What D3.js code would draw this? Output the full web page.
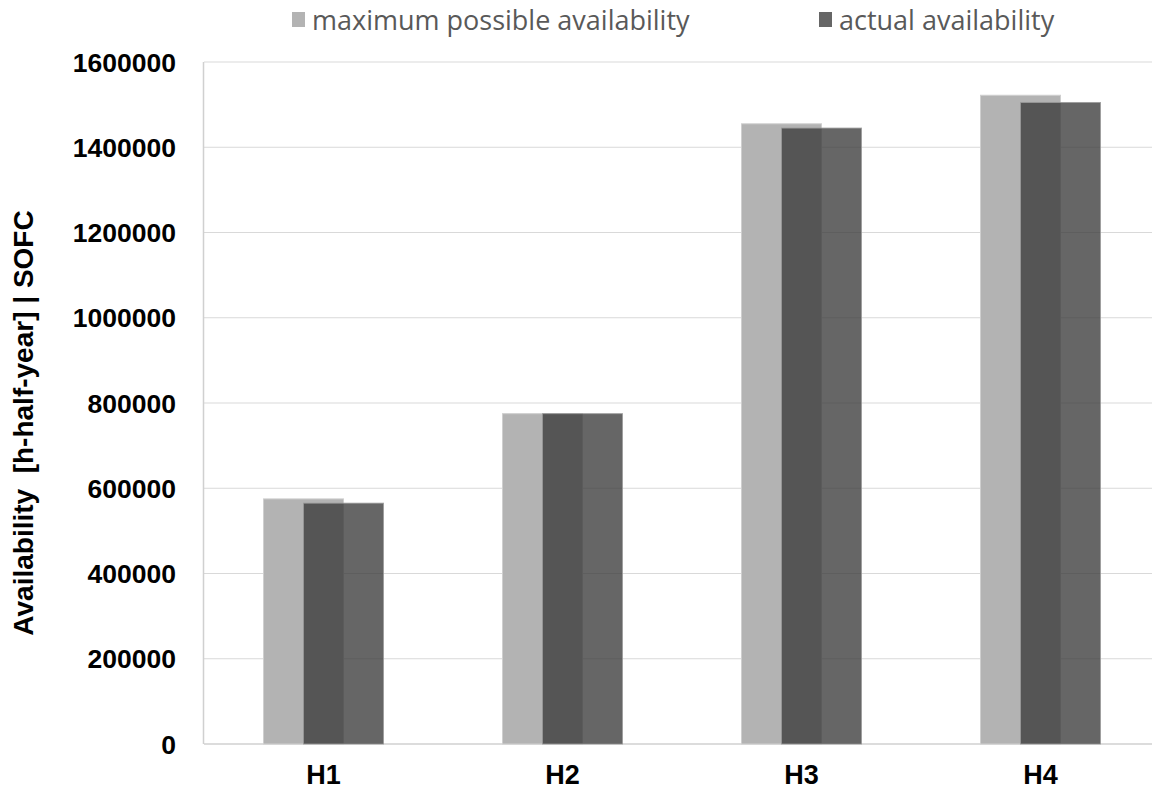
<!DOCTYPE html>
<html><head><meta charset="utf-8">
<script src="https://cdn.jsdelivr.net/npm/d3@7"></script>
<style>body{margin:0;background:#fff}svg{display:block}</style>
</head><body>
<svg id="c" width="1152" height="791"></svg>
<script>
const categories = ["H1", "H2", "H3", "H4"];
const maxPossible = [575000, 775000, 1455000, 1522000];
const actual = [565000, 775000, 1445000, 1505000];
const yTicks = [0, 200000, 400000, 600000, 800000, 1000000, 1200000, 1400000, 1600000];
const seriesNames = ["maximum possible availability", "actual availability"];
const yTitle = "Availability  [h-half-year] | SOFC";

const svg = d3.select("#c");
const pLeft = 204, pRight = 1160, pTop = 62, pBottom = 744;
const x = d3.scaleBand().domain(categories).range([pLeft, pRight]).paddingInner(0).paddingOuter(0);
const y = d3.scaleLinear().domain([0, 1600000]).range([pBottom, pTop]);
const barW = 80, off = 40;

// gridlines
svg.append("g").selectAll("line").data(yTicks.filter(d => d > 0)).join("line")
  .attr("x1", pLeft).attr("x2", pRight).attr("y1", d => y(d)).attr("y2", d => y(d))
  .attr("stroke", "#d9d9d9").attr("stroke-width", 1);

// axes lines
svg.append("line").attr("x1", pLeft - 0.5).attr("x2", pLeft - 0.5).attr("y1", pTop).attr("y2", pBottom)
  .attr("stroke", "#d0d0d0").attr("stroke-width", 1.5);
svg.append("line").attr("x1", pLeft).attr("x2", pRight).attr("y1", pBottom).attr("y2", pBottom)
  .attr("stroke", "#d0d0d0").attr("stroke-width", 1.5);

// y tick labels
svg.append("g").selectAll("text").data(yTicks).join("text")
  .attr("x", 176).attr("y", d => y(d)).attr("dy", "0.36em")
  .attr("text-anchor", "end")
  .style("font-family", "Liberation Sans, Arial, sans-serif").style("font-weight", "bold")
  .style("font-size", "26.5px").attr("fill", "#000")
  .text(d => d3.format("d")(d));

// x labels
svg.append("g").selectAll("text").data(categories).join("text")
  .attr("x", d => x(d) + x.bandwidth() / 2).attr("y", 784)
  .attr("text-anchor", "middle")
  .style("font-family", "Liberation Sans, Arial, sans-serif").style("font-weight", "bold")
  .style("font-size", "27px").attr("fill", "#000")
  .text(d => d);

// bars
const g0 = x.bandwidth() / 2 - (barW + off) / 2;
svg.append("g").selectAll("rect").data(categories).join("rect")
  .attr("x", d => x(d) + g0).attr("width", barW)
  .attr("y", (d, i) => y(maxPossible[i])).attr("height", (d, i) => pBottom - y(maxPossible[i]))
  .attr("fill", "#b3b3b3").attr("stroke", "#cfcfcf").attr("stroke-width", 1);
svg.append("g").selectAll("rect").data(categories).join("rect")
  .attr("x", d => x(d) + g0 + off).attr("width", barW)
  .attr("y", (d, i) => y(actual[i])).attr("height", (d, i) => pBottom - y(actual[i]))
  .attr("fill", "#3a3a3a").attr("fill-opacity", 0.776)
  .attr("stroke", "#9a9a9a").attr("stroke-opacity", 0.8).attr("stroke-width", 1);

// legend
const leg = [{x: 292, c: "#b3b3b3", t: seriesNames[0]}, {x: 819, c: "#666666", t: seriesNames[1]}];
const lg = svg.append("g").selectAll("g").data(leg).join("g");
lg.append("rect").attr("x", d => d.x).attr("y", 12).attr("width", 13).attr("height", 15).attr("fill", d => d.c);
lg.append("text").attr("x", d => d.x + 20).attr("y", 30)
  .style("font-family", "Open Sans, sans-serif").style("font-size", "27px").attr("fill", "#595959")
  .text(d => d.t);

// y title
svg.append("text").attr("transform", "translate(33,423) rotate(-90)")
  .attr("text-anchor", "middle").style("white-space", "pre")
  .style("font-family", "Liberation Sans, Arial, sans-serif").style("font-weight", "bold")
  .style("font-size", "28px").attr("fill", "#000")
  .text(yTitle);
</script>
</body></html>
